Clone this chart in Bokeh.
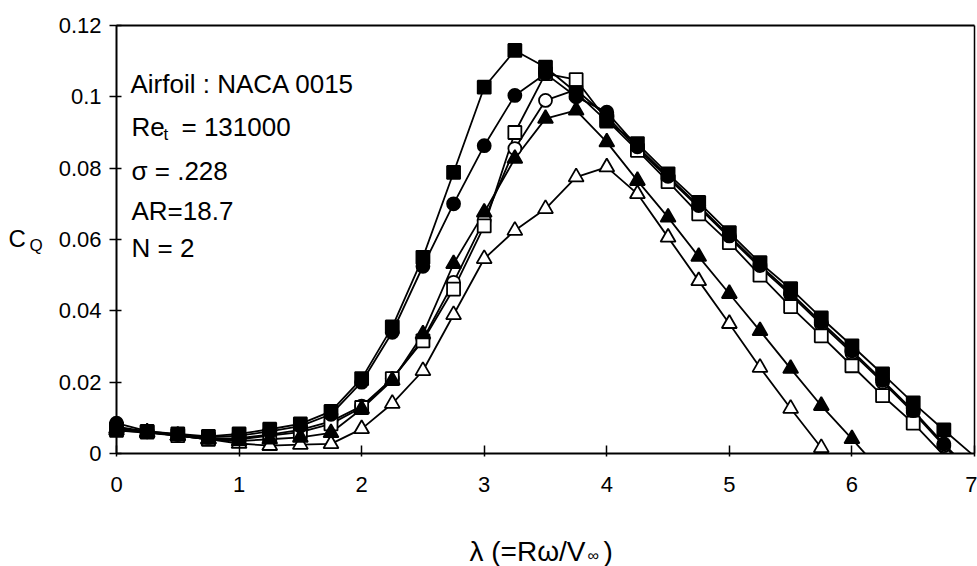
from bokeh.plotting import figure
from bokeh.models import Range1d, FixedTicker, Label, LinearAxis
from bokeh.embed import file_html
from bokeh.resources import INLINE

# ---------------- data ----------------
lam = [0.0, 0.25, 0.5, 0.75, 1.0, 1.25, 1.5, 1.75, 2.0, 2.25, 2.5, 2.75, 3.0, 3.25,
       3.5, 3.75, 4.0, 4.25, 4.5, 4.75, 5.0, 5.25, 5.5, 5.75, 6.0, 6.25, 6.5, 6.75, 7.0]

cq_filled_square = [0.0070, 0.0062, 0.0055, 0.0048, 0.0055, 0.0068, 0.0083, 0.0118, 0.0210,
                    0.0355, 0.0550, 0.0788, 0.1027, 0.1130, 0.1083, 0.1012, 0.0932, 0.0869,
                    0.0784, 0.0704, 0.0619, 0.0535, 0.0462, 0.0380, 0.0302, 0.0223, 0.0142,
                    0.0066, -0.0008]
cq_filled_circle = [0.0085, 0.0063, 0.0053, 0.0045, 0.0050, 0.0062, 0.0077, 0.0110, 0.0200,
                    0.0340, 0.0525, 0.0700, 0.0863, 0.1004, 0.1065, 0.1000, 0.0957, 0.0860,
                    0.0777, 0.0695, 0.0610, 0.0527, 0.0450, 0.0368, 0.0288, 0.0205, 0.0120,
                    0.0027, -0.0060]
cq_open_square = [0.0065, 0.0060, 0.0050, 0.0040, 0.0040, 0.0050, 0.0060, 0.0083, 0.0129,
                  0.0210, 0.0316, 0.0461, 0.0638, 0.0900, 0.1065, 0.1048, 0.0935, 0.0850,
                  0.0762, 0.0672, 0.0591, 0.0500, 0.0412, 0.0330, 0.0246, 0.0162, 0.0085,
                  -0.0005, -0.0090]
cq_open_circle = [0.0075, 0.0061, 0.0051, 0.0042, 0.0043, 0.0053, 0.0066, 0.0090, 0.0133,
                  0.0210, 0.0320, 0.0480, 0.0655, 0.0855, 0.0990, 0.1020, 0.0945, 0.0855,
                  0.0772, 0.0690, 0.0605, 0.0522, 0.0445, 0.0362, 0.0282, 0.0200, 0.0115,
                  0.0022, -0.0065]
cq_filled_triangle = [0.0070, 0.0060, 0.0050, 0.0040, 0.0035, 0.0040, 0.0045, 0.0058, 0.0125,
                      0.0205, 0.0335, 0.0532, 0.0676, 0.0827, 0.0939, 0.0962, 0.0873, 0.0765,
                      0.0662, 0.0552, 0.0448, 0.0344, 0.0238, 0.0134, 0.0041, -0.0055]
cq_open_triangle = [0.0065, 0.0058, 0.0050, 0.0040, 0.0028, 0.0022, 0.0025, 0.0027, 0.0069,
                    0.0140, 0.0232, 0.0389, 0.0546, 0.0625, 0.0686, 0.0775, 0.0803, 0.0728,
                    0.0606, 0.0484, 0.0364, 0.0241, 0.0126, 0.0016, -0.0090]

x_ticks = [0, 1, 2, 3, 4, 5, 6, 7]
x_tick_labels = ["0", "1", "2", "3", "4", "5", "6", "7"]
y_ticks = [0, 0.02, 0.04, 0.06, 0.08, 0.1, 0.12]
y_tick_labels = ["0", "0.02", "0.04", "0.06", "0.08", "0.1", "0.12"]
x_min, x_max = 0, 7
y_min, y_max = 0, 0.12

info_lines = ["Airfoil : NACA 0015", "Re", "t", "= 131000", "\u03c3 = .228", "AR=18.7", "N = 2"]

FONT = "Liberation Sans"

# ---------------- layout (pixels of the 977x566 page) ----------------
W, H = 977, 566
PX_L, PX_R, PX_T, PX_B = 116, 974, 25, 453   # where the axes box lies
sx = (PX_R - PX_L) / (x_max - x_min)
sy = (PX_B - PX_T) / (y_max - y_min)
xr = Range1d(x_min - PX_L / sx, x_max + (W - PX_R) / sx)
yr = Range1d(y_min - (H - PX_B) / sy, y_max + PX_T / sy)

p = figure(width=W, height=H, output_backend="svg", toolbar_location=None,
           x_range=xr, y_range=yr, x_axis_location=None, y_axis_location=None,
           min_border=0, min_border_left=0, min_border_right=0,
           min_border_top=0, min_border_bottom=0)
p.background_fill_color = "white"
p.border_fill_color = "white"
p.outline_line_color = None
p.xgrid.visible = False
p.ygrid.visible = False

xaxis = LinearAxis(fixed_location=y_min, bounds=(x_min, x_max), ticker=FixedTicker(ticks=x_ticks),
                   major_label_overrides=dict(zip(x_ticks, x_tick_labels)))
yaxis = LinearAxis(fixed_location=x_min, bounds=(y_min, y_max), ticker=FixedTicker(ticks=y_ticks),
                   major_label_overrides=dict(zip(y_ticks, y_tick_labels)))
top_border = LinearAxis(fixed_location=y_max, bounds=(x_min, x_max), ticker=FixedTicker(ticks=[]))
right_border = LinearAxis(fixed_location=x_max, bounds=(y_min, y_max), ticker=FixedTicker(ticks=[]))
for ax in (xaxis, yaxis, top_border, right_border):
    ax.axis_line_color = "black"
    ax.axis_line_width = 2
    ax.major_tick_line_color = "black"
    ax.major_tick_line_width = 1.5
    ax.minor_tick_line_color = None
    ax.major_label_text_font = FONT
    ax.major_label_text_color = "black"
    ax.major_label_text_font_size = "22px"
for ax in (top_border, right_border):
    ax.major_tick_line_color = None
    ax.major_label_text_color = None
right_border.axis_line_width = 1.5
xaxis.major_tick_in = 8
xaxis.major_tick_out = 3
xaxis.major_label_standoff = 20
yaxis.major_tick_in = 5
yaxis.major_tick_out = 7
yaxis.major_label_standoff = 8
p.add_layout(xaxis, "below")
p.add_layout(yaxis, "left")
p.add_layout(top_border, "above")
p.add_layout(right_border, "right")

series = [
    (cq_open_circle, "circle", "white", 13),
    (cq_open_square, "square", "white", 13),
    (cq_open_triangle, "triangle", "white", 15),
    (cq_filled_triangle, "triangle", "black", 15),
    (cq_filled_circle, "circle", "black", 13),
    (cq_filled_square, "square", "black", 13),
]
for ys, marker, fill, size in series:
    p.line(lam[:len(ys)], ys, line_color="black", line_width=1.8)

# white mask below the horizontal axis: the curves stop at C_Q = 0
p.quad(left=[xr.start], right=[xr.end], bottom=[yr.start], top=[y_min],
       fill_color="white", line_color=None)

for ys, marker, fill, size in series:
    xs = lam[:len(ys)]
    mx = [x for x, y in zip(xs, ys) if y >= y_min]
    my = [y for y in ys if y >= y_min]
    p.scatter(mx, my, marker=marker, size=size, fill_color=fill,
              line_color="black", line_width=1.8)


# ---------------- texts ----------------
def add_text(txt, cx, cy_base, size, align="left"):
    p.add_layout(Label(x=cx, y=H - cy_base, x_units="screen", y_units="screen",
                       text=txt, text_font=FONT, text_font_size=f"{size}px",
                       text_color="black", text_align=align, text_baseline="alphabetic"))


add_text(info_lines[0], 130, 83, 26)
add_text(info_lines[1], 131, 126, 26)
add_text(info_lines[2], 163, 134, 17)
add_text(info_lines[3], 181, 126, 26)
add_text(info_lines[4], 131, 170, 26)
add_text(info_lines[5], 131, 210, 26)
add_text(info_lines[6], 131, 247, 26)

# y axis title C_Q
add_text("C", 8, 238, 24)
add_text("Q", 29, 245, 17)

# x axis title  λ (=Rω/V∞)
add_text("\u03bb (=R\u03c9/V", 469, 551, 28)
add_text("\u221e", 587, 555, 16)
add_text(")", 603, 551, 28)

open("out.html", "w").write(file_html(p, INLINE))
